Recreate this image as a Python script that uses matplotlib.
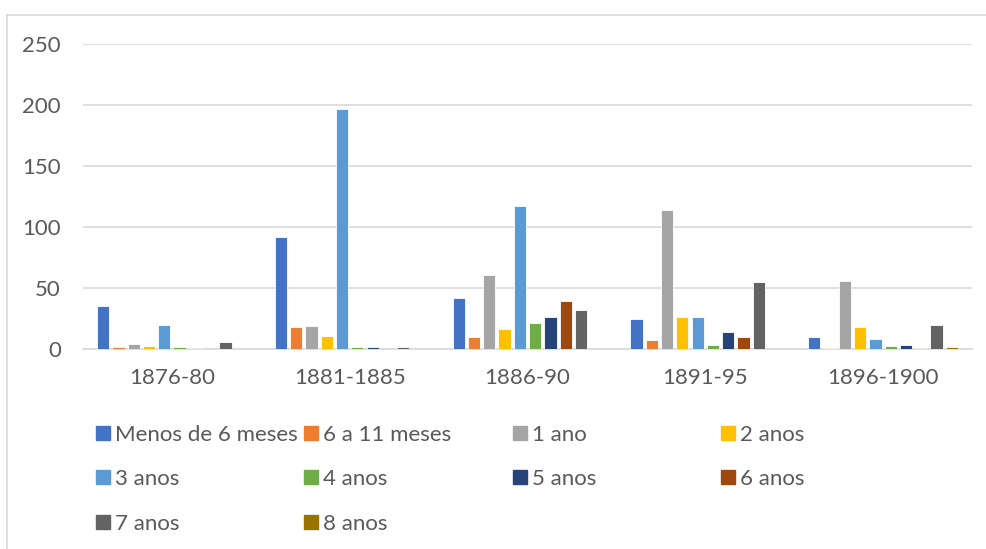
import matplotlib.pyplot as plt
import numpy as np
from matplotlib.patches import Rectangle
from matplotlib.lines import Line2D

# data
periods = ['1876-80', '1881-1885', '1886-90', '1891-95', '1896-1900']
series = ['Menos de 6 meses', '6 a 11 meses', '1 ano', '2 anos', '3 anos',
          '4 anos', '5 anos', '6 anos', '7 anos', '8 anos']
menos_6 = [35, 92, 42, 25, 10]
m6_11 = [1.5, 18, 10, 7, 0.5]
ano1 = [4, 18.5, 61, 114, 56]
anos2 = [2.5, 10.5, 16, 26, 18]
anos3 = [20, 197, 117, 26, 8.5]
anos4 = [1.5, 1.5, 21, 3.5, 2.5]
anos5 = [0.7, 1.5, 26, 14, 3.5]
anos6 = [0, 0, 39, 9.5, 0.6]
anos7 = [6, 1.5, 32, 55, 20]
anos8 = [0, 0, 0, 0, 1.5]
values = [menos_6, m6_11, ano1, anos2, anos3, anos4, anos5, anos6, anos7, anos8]

colors = ['#4472C4', '#ED7D31', '#A5A5A5', '#FFC000', '#5B9BD5',
          '#70AD47', '#264478', '#9E480E', '#636363', '#997300']

W, H = 987, 549
txt_color = '#595959'
font = 'Lato'
fsize = 16

fig = plt.figure(figsize=(W / 100, H / 100), dpi=100)
ax = fig.add_axes([83 / W, 1 - 349 / H, (972 - 83) / W, (349 - 44) / H])

x = np.arange(len(periods))
pitch = 0.086
width = 0.069
for i, (vals, c) in enumerate(zip(values, colors)):
    offs = (i - 4.5) * pitch
    ax.bar(x + offs, vals, width, color=c, edgecolor='white', linewidth=0.6,
           zorder=3, label=series[i])

ax.set_xlim(-0.5, len(periods) - 0.5)
ax.set_ylim(0, 250)
ax.set_yticks(range(0, 251, 50))
ax.yaxis.grid(True, color='#D9D9D9', linewidth=1.2, zorder=0)
ax.set_xticks(x)
ax.set_xticklabels(periods)
for s in ['top', 'right', 'left']:
    ax.spines[s].set_visible(False)
ax.spines['bottom'].set_color('#D9D9D9')
ax.spines['bottom'].set_linewidth(1.2)
ax.tick_params(axis='both', length=0, labelsize=fsize, labelcolor=txt_color)
ax.tick_params(axis='y', pad=16)
ax.tick_params(axis='x', pad=14)
for lab in ax.get_xticklabels() + ax.get_yticklabels():
    lab.set_fontfamily(font)

# legend in Excel style: 4 equal columns
col_x = [96, 304, 513, 721]
row_y = [433, 477, 522]
sq = 14
for i, (name, c) in enumerate(zip(series, colors)):
    cx = col_x[i % 4]
    cy = row_y[i // 4]
    fig.add_artist(Rectangle((cx / W, 1 - (cy + sq / 2) / H), sq / W, sq / H,
                             transform=fig.transFigure, color=c))
    fig.text((cx + sq + 5) / W, 1 - cy / H, name, fontsize=fsize,
             color=txt_color, va='center_baseline', ha='left', fontfamily=font)

# chart border (top and left visible)
fig.add_artist(Line2D([7 / W, 1], [1 - 15 / H, 1 - 15 / H], color='#D9D9D9',
                      linewidth=1.2, transform=fig.transFigure))
fig.add_artist(Line2D([7 / W, 7 / W], [0, 1 - 15 / H], color='#D9D9D9',
                      linewidth=1.2, transform=fig.transFigure))

fig.savefig('out.png', dpi=100)
